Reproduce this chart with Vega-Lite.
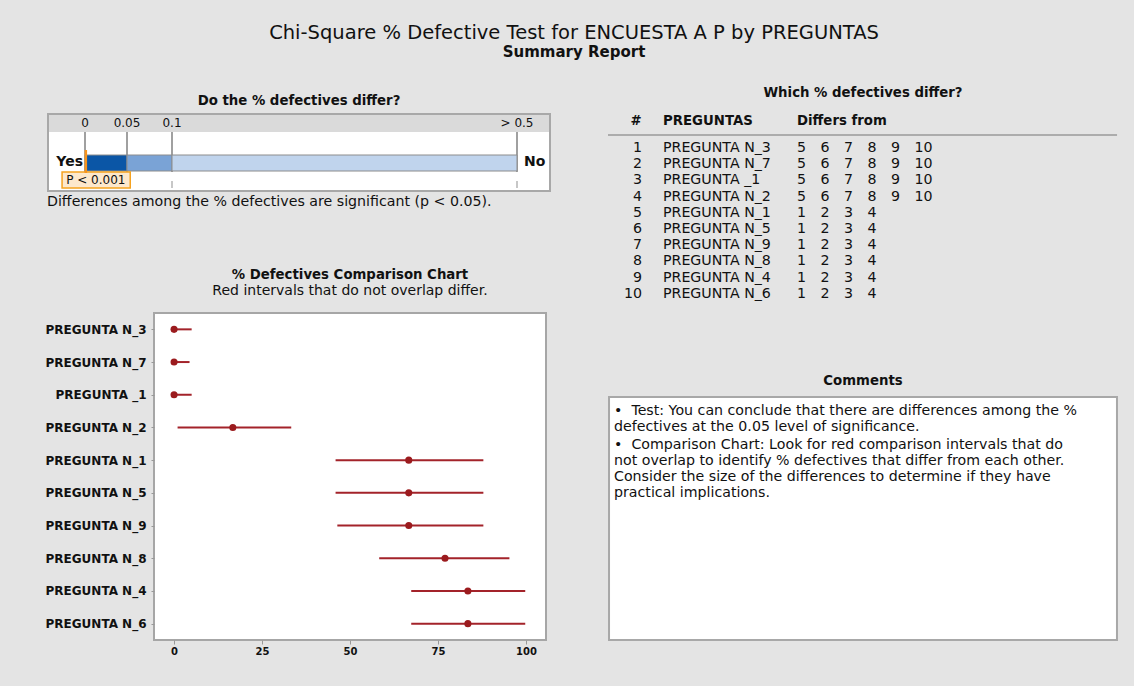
{
  "$schema": "https://vega.github.io/schema/vega-lite/v6.json",
  "background": "#e4e4e4",
  "padding": {"left": 44, "top": 23, "right": 16, "bottom": 30},
  "title": {
    "text": "Chi-Square % Defective Test for ENCUESTA A P by PREGUNTAS",
    "subtitle": "Summary Report",
    "anchor": "middle", "frame": "bounds", "dx": -7,
    "font": "DejaVu Sans", "fontSize": 19.5, "fontWeight": "normal", "color": "#111",
    "subtitleFont": "DejaVu Sans", "subtitleFontSize": 15, "subtitleFontWeight": "bold", "subtitleColor": "#111",
    "subtitlePadding": 1, "offset": 25
  },
  "columns": 2,
  "bounds": "flush",
  "align": "each",
  "spacing": {"row": 122, "column": 58},
  "datasets": {
    "one": [{}],
    "segments": [
      {"from": 0, "to": 0.05, "band": "sig"},
      {"from": 0.05, "to": 0.1, "band": "marginal"},
      {"from": 0.1, "to": 0.5, "band": "not"}
    ],
    "ticks": [
      {"p": 0, "label": "0"},
      {"p": 0.05, "label": "0.05"},
      {"p": 0.1, "label": "0.1"},
      {"p": 0.5, "label": "> 0.5"}
    ],
    "pvalue": [{"p": 0.001, "label": "P < 0.001"}],
    "intervals": [
      {"n": 1, "name": "PREGUNTA N_3", "pct": 0, "lo": 0, "hi": 5.0},
      {"n": 2, "name": "PREGUNTA N_7", "pct": 0, "lo": 0, "hi": 4.4},
      {"n": 3, "name": "PREGUNTA _1", "pct": 0, "lo": 0, "hi": 5.0},
      {"n": 4, "name": "PREGUNTA N_2", "pct": 16.7, "lo": 1.0, "hi": 33.3},
      {"n": 5, "name": "PREGUNTA N_1", "pct": 66.7, "lo": 45.9, "hi": 87.9},
      {"n": 6, "name": "PREGUNTA N_5", "pct": 66.7, "lo": 45.9, "hi": 87.9},
      {"n": 7, "name": "PREGUNTA N_9", "pct": 66.7, "lo": 46.4, "hi": 87.9},
      {"n": 8, "name": "PREGUNTA N_8", "pct": 77.0, "lo": 58.3, "hi": 95.3},
      {"n": 9, "name": "PREGUNTA N_4", "pct": 83.5, "lo": 67.4, "hi": 99.8},
      {"n": 10, "name": "PREGUNTA N_6", "pct": 83.5, "lo": 67.4, "hi": 99.8}
    ],
    "differs": [
      {"n": 1, "k": 1, "v": 5}, {"n": 1, "k": 2, "v": 6}, {"n": 1, "k": 3, "v": 7}, {"n": 1, "k": 4, "v": 8}, {"n": 1, "k": 5, "v": 9}, {"n": 1, "k": 6, "v": 10},
      {"n": 2, "k": 1, "v": 5}, {"n": 2, "k": 2, "v": 6}, {"n": 2, "k": 3, "v": 7}, {"n": 2, "k": 4, "v": 8}, {"n": 2, "k": 5, "v": 9}, {"n": 2, "k": 6, "v": 10},
      {"n": 3, "k": 1, "v": 5}, {"n": 3, "k": 2, "v": 6}, {"n": 3, "k": 3, "v": 7}, {"n": 3, "k": 4, "v": 8}, {"n": 3, "k": 5, "v": 9}, {"n": 3, "k": 6, "v": 10},
      {"n": 4, "k": 1, "v": 5}, {"n": 4, "k": 2, "v": 6}, {"n": 4, "k": 3, "v": 7}, {"n": 4, "k": 4, "v": 8}, {"n": 4, "k": 5, "v": 9}, {"n": 4, "k": 6, "v": 10},
      {"n": 5, "k": 1, "v": 1}, {"n": 5, "k": 2, "v": 2}, {"n": 5, "k": 3, "v": 3}, {"n": 5, "k": 4, "v": 4},
      {"n": 6, "k": 1, "v": 1}, {"n": 6, "k": 2, "v": 2}, {"n": 6, "k": 3, "v": 3}, {"n": 6, "k": 4, "v": 4},
      {"n": 7, "k": 1, "v": 1}, {"n": 7, "k": 2, "v": 2}, {"n": 7, "k": 3, "v": 3}, {"n": 7, "k": 4, "v": 4},
      {"n": 8, "k": 1, "v": 1}, {"n": 8, "k": 2, "v": 2}, {"n": 8, "k": 3, "v": 3}, {"n": 8, "k": 4, "v": 4},
      {"n": 9, "k": 1, "v": 1}, {"n": 9, "k": 2, "v": 2}, {"n": 9, "k": 3, "v": 3}, {"n": 9, "k": 4, "v": 4},
      {"n": 10, "k": 1, "v": 1}, {"n": 10, "k": 2, "v": 2}, {"n": 10, "k": 3, "v": 3}, {"n": 10, "k": 4, "v": 4}
    ],
    "comments": [
      {"p": 1, "lines": ["•\u00a0\u00a0Test: You can conclude that there are differences among the %", "defectives at the 0.05 level of significance."]},
      {"p": 2, "lines": ["•\u00a0\u00a0Comparison Chart: Look for red comparison intervals that do", "not overlap to identify % defectives that differ from each other.", "Consider the size of the differences to determine if they have", "practical implications."]}
    ]
  },
  "concat": [
    {
      "width": 396, "height": 77,
      "title": {"text": "Do the % defectives differ?", "dx": -53, "offset": 6, "fontSize": 13.3, "fontWeight": "bold"},
      "layer": [
        {
          "data": {"name": "one"},
          "mark": {"type": "rect", "fill": "white"},
          "encoding": {
            "x": {"datum": -0.1, "type": "quantitative", "scale": {"domain": [-0.1, 0, 0.05, 0.1, 0.5, 0.6], "range": [-106, -69, -27, 18, 363, 396], "zero": false, "nice": false}, "axis": null},
            "x2": {"datum": 0.6},
            "y": {"datum": 0, "type": "quantitative", "scale": {"domain": [0, 77], "reverse": true, "zero": false, "nice": false}, "axis": null},
            "y2": {"datum": 77}
          }
        },
        {
          "data": {"name": "one"},
          "mark": {"type": "rect", "fill": "#dadada"},
          "encoding": {
            "x": {"datum": -0.1, "type": "quantitative"},
            "x2": {"datum": 0.6},
            "y": {"datum": 0, "type": "quantitative"},
            "y2": {"datum": 18}
          }
        },
        {
          "data": {"name": "ticks"},
          "mark": {"type": "rule", "color": "#a0a0a0", "strokeWidth": 2},
          "encoding": {
            "x": {"field": "p", "type": "quantitative"},
            "y": {"datum": 18, "type": "quantitative"},
            "y2": {"datum": 58}
          }
        },
        {
          "data": {"name": "ticks"},
          "transform": [{"filter": "datum.p >= 0.1"}],
          "mark": {"type": "rule", "color": "#b4b4b4", "strokeWidth": 1.5},
          "encoding": {
            "x": {"field": "p", "type": "quantitative"},
            "y": {"datum": 67, "type": "quantitative"},
            "y2": {"datum": 74}
          }
        },
        {
          "data": {"name": "segments"},
          "mark": {"type": "rect", "stroke": "#8c8c8c", "strokeWidth": 1},
          "encoding": {
            "x": {"field": "from", "type": "quantitative"},
            "x2": {"field": "to"},
            "y": {"datum": 41, "type": "quantitative"},
            "y2": {"datum": 57},
            "color": {"field": "band", "type": "nominal", "scale": {"domain": ["sig", "marginal", "not"], "range": ["#0b56a6", "#7aa3d6", "#c0d4ed"]}, "legend": null}
          }
        },
        {
          "data": {"name": "ticks"},
          "mark": {"type": "text", "fontSize": 12, "baseline": "middle", "align": "center"},
          "encoding": {
            "x": {"field": "p", "type": "quantitative"},
            "y": {"datum": 9, "type": "quantitative"},
            "text": {"field": "label"}
          }
        },
        {
          "data": {"name": "one"},
          "mark": {"type": "text", "text": "Yes", "align": "right", "baseline": "middle", "dx": -2, "fontWeight": "bold", "fontSize": 14},
          "encoding": {
            "x": {"datum": 0, "type": "quantitative"},
            "y": {"datum": 48, "type": "quantitative"}
          }
        },
        {
          "data": {"name": "one"},
          "mark": {"type": "text", "text": "No", "align": "left", "baseline": "middle", "dx": 7, "fontWeight": "bold", "fontSize": 14},
          "encoding": {
            "x": {"datum": 0.5, "type": "quantitative"},
            "y": {"datum": 48, "type": "quantitative"}
          }
        },
        {
          "data": {"name": "one"},
          "mark": {"type": "rect", "fill": "#fde8cc", "stroke": "#f5a21f", "strokeWidth": 1.5},
          "encoding": {
            "x": {"datum": -0.062, "type": "quantitative"},
            "x2": {"datum": 0.0536},
            "y": {"datum": 58, "type": "quantitative"},
            "y2": {"datum": 74}
          }
        },
        {
          "data": {"name": "pvalue"},
          "mark": {"type": "rule", "color": "#f7941d", "strokeWidth": 2.5},
          "encoding": {
            "x": {"field": "p", "type": "quantitative"},
            "y": {"datum": 36, "type": "quantitative"},
            "y2": {"datum": 59}
          }
        },
        {
          "data": {"name": "pvalue"},
          "mark": {"type": "text", "fontSize": 12, "baseline": "middle", "align": "center", "dx": 10},
          "encoding": {
            "x": {"field": "p", "type": "quantitative"},
            "y": {"datum": 66, "type": "quantitative"},
            "text": {"field": "label"}
          }
        },
        {
          "data": {"name": "one"},
          "mark": {"type": "rect", "fill": null, "stroke": "#a8a8a8", "strokeWidth": 2},
          "encoding": {
            "x": {"datum": -0.1, "type": "quantitative"},
            "x2": {"datum": 0.6},
            "y": {"datum": 0, "type": "quantitative"},
            "y2": {"datum": 77}
          }
        },
        {
          "data": {"name": "one"},
          "mark": {"type": "text", "text": "Differences among the % defectives are significant (p < 0.05).", "align": "left", "baseline": "middle", "dx": -1, "fontSize": 14.2},
          "encoding": {
            "x": {"datum": -0.1, "type": "quantitative"},
            "y": {"datum": 88, "type": "quantitative"}
          }
        }
      ]
    },
    {
      "width": 510, "height": 77,
      "title": {"text": "Which % defectives differ?", "offset": 15, "fontSize": 13.3, "fontWeight": "bold"},
      "layer": [
        {
          "data": {"name": "one"},
          "mark": {"type": "text", "text": "#", "align": "center", "baseline": "middle", "fontWeight": "bold", "fontSize": 13.3},
          "encoding": {
            "x": {"datum": -5.85, "type": "quantitative", "scale": {"domain": [-7.043, 14.66], "zero": false, "nice": false}, "axis": null},
            "y": {"datum": -0.667, "type": "quantitative", "scale": {"domain": [-1.099, 3.654], "reverse": true, "zero": false, "nice": false}, "axis": null}
          }
        },
        {
          "data": {"name": "one"},
          "mark": {"type": "text", "text": "PREGUNTAS", "align": "left", "baseline": "middle", "fontWeight": "bold", "fontSize": 13.3},
          "encoding": {
            "x": {"datum": -4.703, "type": "quantitative"},
            "y": {"datum": -0.667, "type": "quantitative"}
          }
        },
        {
          "data": {"name": "one"},
          "mark": {"type": "text", "text": "Differs from", "align": "left", "baseline": "middle", "fontWeight": "bold", "fontSize": 13.3},
          "encoding": {
            "x": {"datum": 1, "type": "quantitative"},
            "y": {"datum": -0.667, "type": "quantitative"}
          }
        },
        {
          "data": {"name": "one"},
          "mark": {"type": "rule", "color": "#9a9a9a", "strokeWidth": 1.5},
          "encoding": {
            "x": {"datum": -7.043, "type": "quantitative"},
            "x2": {"datum": 14.62},
            "y": {"datum": 0.197, "type": "quantitative"}
          }
        },
        {
          "data": {"name": "intervals"},
          "mark": {"type": "text", "align": "right", "baseline": "middle", "fontSize": 14.2},
          "encoding": {
            "x": {"datum": -5.596, "type": "quantitative"},
            "y": {"field": "n", "type": "quantitative"},
            "text": {"field": "n"}
          }
        },
        {
          "data": {"name": "intervals"},
          "mark": {"type": "text", "align": "left", "baseline": "middle", "fontSize": 14.2},
          "encoding": {
            "x": {"datum": -4.703, "type": "quantitative"},
            "y": {"field": "n", "type": "quantitative"},
            "text": {"field": "name"}
          }
        },
        {
          "data": {"name": "differs"},
          "mark": {"type": "text", "align": "left", "baseline": "middle", "fontSize": 14.2},
          "encoding": {
            "x": {"field": "k", "type": "quantitative"},
            "y": {"field": "n", "type": "quantitative"},
            "text": {"field": "v"}
          }
        }
      ]
    },
    {
      "width": 392, "height": 327,
      "view": {"fill": "white", "stroke": "#a6a6a6", "strokeWidth": 2},
      "title": {"text": "% Defectives Comparison Chart", "subtitle": "Red intervals that do not overlap differ.", "fontSize": 13.3, "fontWeight": "bold", "subtitleFontSize": 14, "subtitleFontWeight": "normal", "subtitlePadding": 3, "offset": 15},
      "data": {"name": "intervals"},
      "encoding": {
        "y": {"field": "name", "type": "nominal", "sort": null, "scale": {"type": "point", "padding": 0.5},
              "axis": {"title": null, "domain": false, "ticks": true, "tickSize": 3, "tickColor": "#999", "labelFontSize": 12, "labelFontWeight": "bold", "labelColor": "#111", "labelPadding": 5, "grid": false}}
      },
      "layer": [
        {
          "mark": {"type": "rule", "color": "#a3232a", "strokeWidth": 2},
          "encoding": {
            "x": {"field": "lo", "type": "quantitative", "scale": {"domain": [-5.7, 105.7], "zero": false, "nice": false},
                  "axis": {"title": null, "values": [0, 25, 50, 75, 100], "format": "d", "grid": false, "domain": false, "tickColor": "#999", "tickSize": 4, "labelFontSize": 10, "labelFontWeight": "bold", "labelColor": "#111", "labelPadding": 2}},
            "x2": {"field": "hi"}
          }
        },
        {
          "mark": {"type": "point", "filled": true, "size": 50, "color": "#9b1b1e", "opacity": 1, "shape": "circle"},
          "encoding": {
            "x": {"field": "pct", "type": "quantitative"}
          }
        }
      ]
    },
    {
      "width": 510, "height": 327,
      "layer": [
        {
          "data": {"name": "one"},
          "mark": {"type": "rect", "fill": "white", "stroke": "#a8a8a8", "strokeWidth": 2},
          "encoding": {
            "x": {"datum": 0.002, "type": "quantitative", "scale": {"domain": [0, 1], "zero": false, "nice": false}, "axis": null},
            "x2": {"datum": 0.998},
            "y": {"datum": 0.794, "type": "quantitative", "scale": {"domain": [-1.676, 7.941], "reverse": true, "zero": false, "nice": false}, "axis": null},
            "y2": {"datum": 7.941}
          }
        },
        {
          "data": {"name": "one"},
          "mark": {"type": "text", "text": "Comments", "align": "center", "baseline": "middle", "fontWeight": "bold", "fontSize": 13.3},
          "encoding": {
            "x": {"datum": 0.5, "type": "quantitative"},
            "y": {"datum": 0.3235, "type": "quantitative"}
          }
        },
        {
          "data": {"name": "comments"},
          "mark": {"type": "text", "align": "left", "baseline": "top", "dx": 6, "lineHeight": 16, "fontSize": 14.2},
          "encoding": {
            "x": {"datum": 0, "type": "quantitative"},
            "y": {"field": "p", "type": "quantitative"},
            "text": {"field": "lines"}
          }
        }
      ]
    }
  ],
  "config": {
    "view": {"stroke": null},
    "font": "DejaVu Sans",
    "text": {"font": "DejaVu Sans", "fontSize": 14.2, "color": "#111"},
    "title": {"font": "DejaVu Sans", "color": "#111", "subtitleFont": "DejaVu Sans", "subtitleColor": "#111", "fontWeight": "bold", "fontSize": 13.3},
    "axis": {"labelFont": "DejaVu Sans"}
  }
}
